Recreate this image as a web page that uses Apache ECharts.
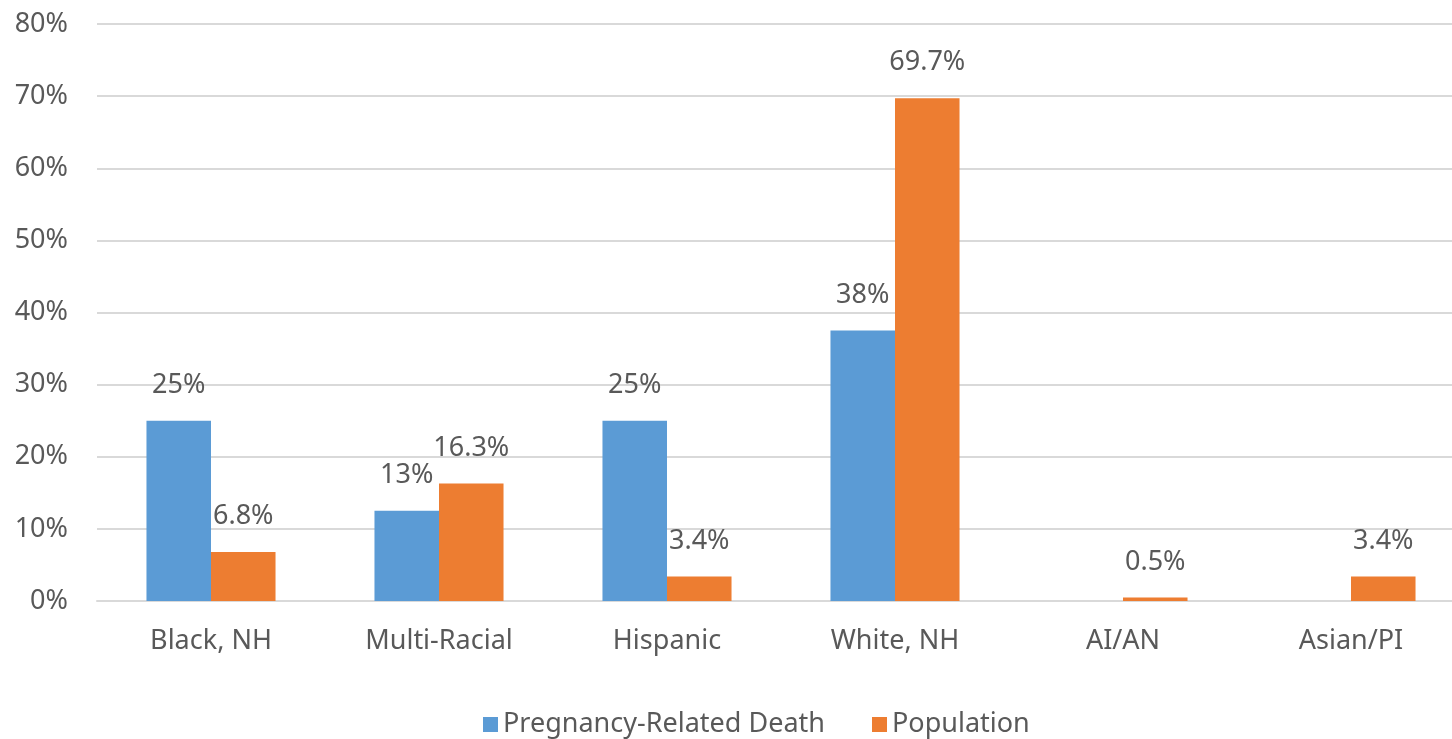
<!DOCTYPE html>
<html>
<head>
<meta charset="utf-8">
<script src="https://cdn.jsdelivr.net/npm/echarts@6/dist/echarts.min.js"></script>
<style>
  html, body { margin: 0; padding: 0; background: #ffffff; overflow: hidden; }
  /* the plot runs slightly past the right edge of the window */
  #chart { width: 1465px; height: 739px; }
</style>
</head>
<body>
<div id="chart"></div>
<script>
// Share of pregnancy-related deaths vs. share of population, by race/ethnicity
const categories = ['Black, NH', 'Multi-Racial', 'Hispanic', 'White, NH', 'AI/AN', 'Asian/PI'];
const deathShare = [25, 12.5, 25, 37.5, null, null];
const populationShare = [6.8, 16.3, 3.4, 69.7, 0.5, 3.4];
const yTicks = [0, 10, 20, 30, 40, 50, 60, 70, 80];

const textColor = '#595959';
const fontFamily = '"Noto Sans", "Open Sans", sans-serif';
const labelSize = 27;

const chart = echarts.init(document.getElementById('chart'));
chart.setOption({
  animation: false,
  textStyle: { fontFamily: fontFamily },
  grid: { left: 97, right: 0, top: 24, bottom: 138, containLabel: false },
  legend: {
    left: 478,
    top: 706,
    itemWidth: 15,
    itemHeight: 15,
    itemGap: 47,
    icon: 'rect',
    textStyle: { color: textColor, fontSize: labelSize, fontFamily: fontFamily, padding: [0, 0, 0, 0] },
    data: ['Pregnancy-Related Death', 'Population']
  },
  xAxis: {
    type: 'category',
    data: categories,
    axisLine: { lineStyle: { color: '#d9d9d9', width: 2 } },
    axisTick: { show: false },
    axisLabel: { color: textColor, fontSize: labelSize, margin: 27, fontFamily: fontFamily }
  },
  yAxis: {
    type: 'value',
    min: yTicks[0],
    max: yTicks[yTicks.length - 1],
    interval: 10,
    axisLine: { show: false },
    axisTick: { show: false },
    axisLabel: { color: textColor, fontSize: labelSize, margin: 29, formatter: v => v + '%', fontFamily: fontFamily },
    splitLine: { lineStyle: { color: '#d9d9d9', width: 2 } }
  },
  series: [
    {
      name: 'Pregnancy-Related Death',
      type: 'bar',
      data: deathShare,
      barGap: '0%',
      barCategoryGap: '43.4%',
      itemStyle: { color: '#5B9BD5' },
      label: {
        show: true,
        position: 'top',
        distance: 22,
        color: textColor,
        fontSize: labelSize,
        fontFamily: fontFamily,
        formatter: p => Math.round(p.value) + '%'
      }
    },
    {
      name: 'Population',
      type: 'bar',
      data: populationShare,
      barGap: '0%',
      barCategoryGap: '43.4%',
      itemStyle: { color: '#ED7D31' },
      label: {
        show: true,
        position: 'top',
        distance: 22,
        color: textColor,
        fontSize: labelSize,
        fontFamily: fontFamily,
        formatter: p => p.value.toFixed(1) + '%'
      }
    }
  ]
});
</script>
</body>
</html>
